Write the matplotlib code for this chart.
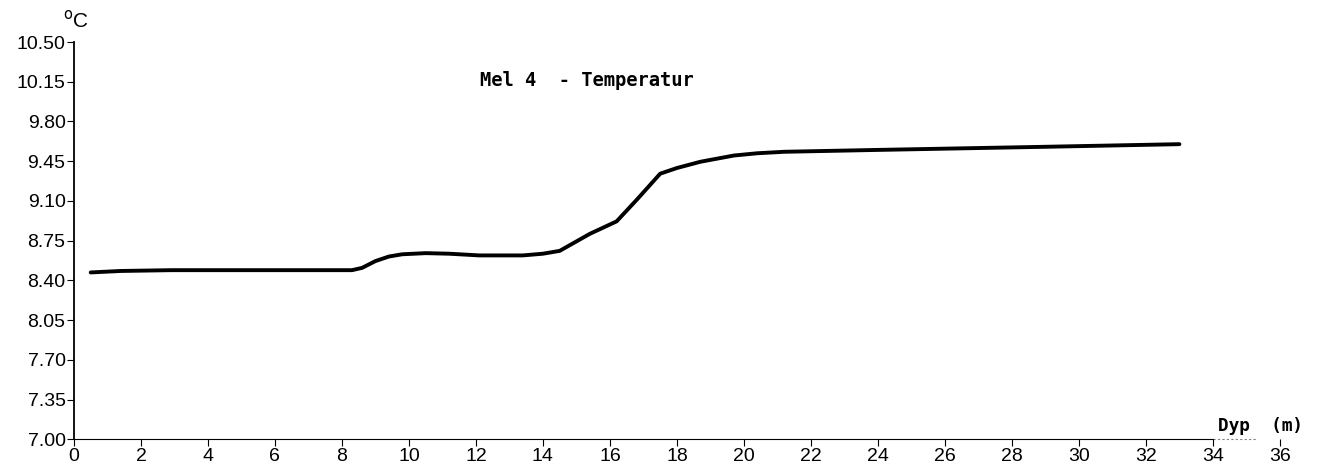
import matplotlib
matplotlib.use("Agg")
import matplotlib.pyplot as plt
import numpy as np

# depth (m) and temperature (deg C)
depth = [0.5, 1.4, 2.9, 5.0, 7.0, 8.3, 8.6, 9.0, 9.4, 9.8, 10.5, 11.2, 12.1, 13.4, 14.0, 14.5,
         15.4, 16.2, 16.8, 17.5, 18.0, 18.7, 19.7, 20.4, 21.2, 24.1, 29.0, 33.0]
temp = [8.47, 8.483, 8.49, 8.49, 8.49, 8.49, 8.51, 8.57, 8.61, 8.63, 8.64, 8.635, 8.62, 8.62,
        8.635, 8.66, 8.81, 8.92, 9.11, 9.34, 9.39, 9.445, 9.50, 9.52, 9.533, 9.55, 9.577, 9.60]

y_ticks = [7.00, 7.35, 7.70, 8.05, 8.40, 8.75, 9.10, 9.45, 9.80, 10.15, 10.50]
x_ticks = list(range(0, 37, 2))

plt.rcParams['font.family'] = ['Liberation Sans', 'DejaVu Sans']

fig = plt.figure(figsize=(13.18, 4.71), dpi=100)
ax = fig.add_axes([0.0561, 0.0673, 0.915, 0.8435])

ax.plot(depth, temp, color="black", linewidth=2.8, solid_joinstyle="round",
        solid_capstyle="round")

ax.set_xlim(0, 36)
ax.set_ylim(7.0, 10.5)
ax.set_xticks(x_ticks)
ax.set_yticks(y_ticks)
ax.set_yticklabels([f"{v:.2f}" for v in y_ticks])
ax.tick_params(axis="both", labelsize=14, length=5, width=0.8, pad=1, colors="black")

for s in ["top", "right"]:
    ax.spines[s].set_visible(False)
ax.spines["left"].set_linewidth(1.3)
ax.spines["bottom"].set_linewidth(0.8)
ax.spines["bottom"].set_bounds(0, 34)
ax.plot([34, 35.3], [7.0, 7.0], color="gray", linewidth=0.8, linestyle=(0, (2, 2)),
        clip_on=False)

fig.text(1260 / 1318, 1 - 426 / 471, "Dyp  (m)", ha="center", va="center",
         fontsize=12.8, fontweight="bold", family=["DejaVu Sans Mono"])
fig.text(76 / 1318, 1 - 20 / 471, "$^{\\mathrm{o}}$C", ha="center", va="center",
         fontsize=15)
fig.text(587 / 1318, 1 - 80 / 471, "Mel 4  - Temperatur", ha="center", va="center",
         fontsize=13.5, fontweight="bold", family=["DejaVu Sans Mono"])

plt.savefig("out.png", dpi=100)
